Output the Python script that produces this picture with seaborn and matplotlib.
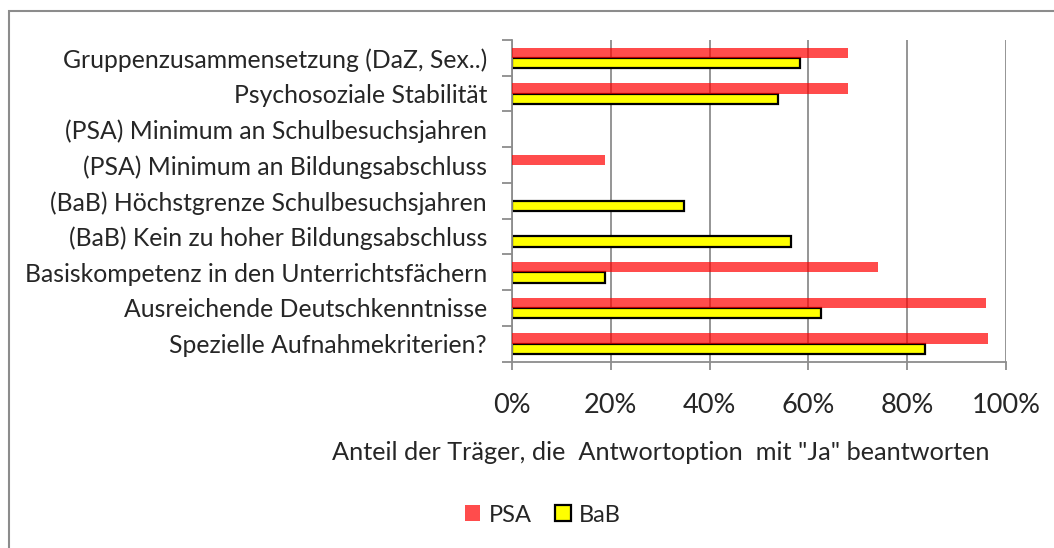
import matplotlib
matplotlib.use("Agg")
import matplotlib.pyplot as plt
import seaborn as sns
import pandas as pd
import numpy as np
from matplotlib.patches import Patch, Rectangle
from matplotlib.ticker import PercentFormatter, FixedLocator


#---------- Data ----------
categories = [
    "Gruppenzusammensetzung (DaZ, Sex..)",
    "Psychosoziale Stabilität",
    "(PSA) Minimum an Schulbesuchsjahren",
    "(PSA) Minimum an Bildungsabschluss",
    "(BaB) Höchstgrenze Schulbesuchsjahren",
    "(BaB) Kein zu hoher Bildungsabschluss",
    "Basiskompetenz in den Unterrichtsfächern",
    "Ausreichende Deutschkenntnisse",
    "Spezielle Aufnahmekriterien?",
]
psa = [0.68, 0.68, 0.0, 0.188, 0.0, 0.0, 0.74, 0.96, 0.963]
bab = [0.582, 0.538, 0.0, 0.0, 0.348, 0.564, 0.189, 0.626, 0.837]
series = ["PSA", "BaB"]
x_ticks = [0, 0.2, 0.4, 0.6, 0.8, 1.0]
x_label = 'Anteil der Träger, die  Antwortoption  mit "Ja" beantworten'

df = pd.DataFrame({
    "Kriterium": categories * 2,
    "Gruppe": [series[0]] * len(categories) + [series[1]] * len(categories),
    "Anteil": psa + bab,
})

sns.set_style("white")
plt.rcParams["font.family"] = ["Lato", "DejaVu Sans"]

fig = plt.figure(figsize=(10.54, 5.48), dpi=100)
ax = fig.add_axes([512 / 1054, 1 - 361.5 / 548, 494 / 1054, 321.5 / 548])

# chart frame (only left/top visible in the reference)
fig.patches.append(Rectangle((9 / 1054, -0.1), 1.2, 1 - 11 / 548 + 0.1,
                             transform=fig.transFigure, fill=False,
                             edgecolor="#8c8c8c", linewidth=1.5, zorder=0))

sns.barplot(data=df, y="Kriterium", x="Anteil", hue="Gruppe",
            hue_order=series, palette=["#ff0000", "#ffff00"],
            orient="h", width=0.58, ax=ax, legend=False, saturation=1)

for bar in ax.containers[0]:
    bar.set_alpha(0.7)
    bar.set_linewidth(0)
    bar.set_zorder(3)
for bar in ax.containers[1]:
    bar.set_edgecolor("black")
    bar.set_linewidth(1.6 if bar.get_width() > 0 else 0)
    bar.set_zorder(2)

ax.set_xlim(0, 1)
ax.set_ylim(len(categories) - 0.5, -0.5)
ax.xaxis.set_major_locator(FixedLocator(x_ticks))
ax.xaxis.set_major_formatter(PercentFormatter(1.0, decimals=0))
ax.grid(axis="x", color="#8c8c8c", linewidth=1.3, zorder=1)
ax.set_axisbelow(True)
ax.set_xlabel("")
ax.set_ylabel("")

ax.yaxis.set_minor_locator(FixedLocator(np.arange(-0.5, len(categories), 1)))
ax.tick_params(axis="y", which="major", length=0, pad=18, labelsize=17.8)
ax.tick_params(axis="y", which="minor", length=7, width=1.3, color="#8c8c8c",
               direction="out", left=True)
ax.tick_params(axis="x", which="major", length=6, width=1.3, color="#8c8c8c",
               direction="out", bottom=True, pad=17, labelsize=19.5)

for side in ["top", "right"]:
    ax.spines[side].set_visible(False)
for side in ["left", "bottom"]:
    ax.spines[side].set_color("#8c8c8c")
    ax.spines[side].set_linewidth(1.3)

fig.text(661 / 1054, 1 - 453 / 548, x_label, ha="center", va="center",
         fontsize=18.2)

handles = [Patch(facecolor="#ff0000", alpha=0.7, edgecolor="none", label="PSA"),
           Patch(facecolor="#ffff00", edgecolor="black", linewidth=1.6, label="BaB")]
fig.legend(handles=handles, loc="center", bbox_to_anchor=(543 / 1054, 1 - 515 / 548),
           ncol=2, frameon=False, fontsize=17, handlelength=0.65, handleheight=0.65,
           handletextpad=0.35, columnspacing=1.0)

plt.savefig("out.png", dpi=100)
